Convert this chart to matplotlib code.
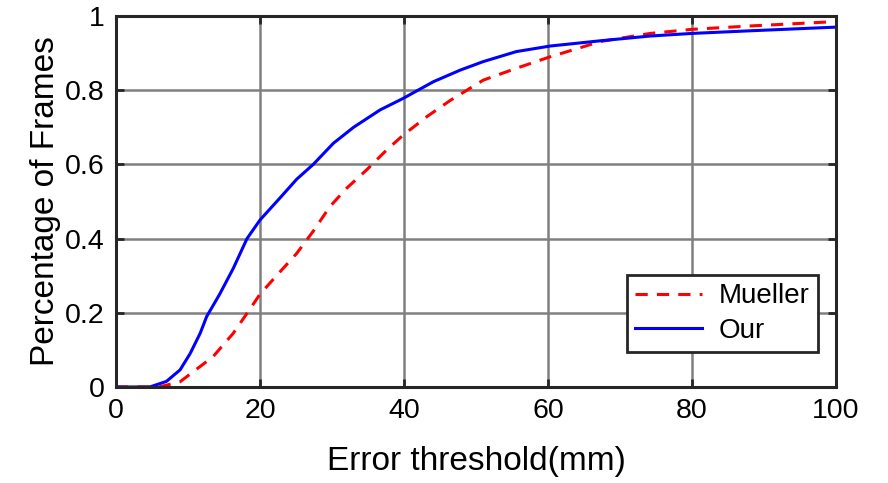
import matplotlib
matplotlib.use("Agg")
import matplotlib.pyplot as plt

# error threshold (mm) vs fraction of frames
our_x = [0, 4.7, 7.0, 8.9, 10.3, 11.7, 12.6, 14.4, 16.3, 18.2, 20.0, 22.8, 25.1,
         27.4, 30.2, 33.0, 36.7, 39.9, 44.1, 47.8, 51.0, 55.6, 60.3, 67.2,
         74.2, 80.0, 88.0, 100]
our_y = [0, 0, 0.015, 0.046, 0.09, 0.145, 0.19, 0.25, 0.32, 0.40, 0.45, 0.51, 0.56,
         0.60, 0.657, 0.70, 0.747, 0.778, 0.823, 0.854, 0.877, 0.904, 0.919, 0.933,
         0.946, 0.953, 0.96, 0.97]

mueller_x = [0, 6.0, 8.9, 13.5, 16.3, 18.6, 20.0, 22.3, 25.1, 27.4, 29.7, 32.0,
             34.8, 37.6, 39.9, 43.2, 46.4, 51.0, 55.6, 60.3, 64.9, 67.2, 74.2,
             80.0, 88.0, 100]
mueller_y = [0, 0, 0.014, 0.082, 0.145, 0.21, 0.25, 0.30, 0.36, 0.42, 0.486, 0.535,
             0.585, 0.639, 0.679, 0.729, 0.772, 0.827, 0.859, 0.89, 0.917, 0.931, 0.953,
             0.964, 0.973, 0.985]

plt.rcParams['font.family'] = ['Liberation Sans', 'DejaVu Sans']

fig = plt.figure(figsize=(8.88, 4.83), dpi=100)
ax = fig.add_axes([0.1306, 0.1988, 0.8108, 0.7681])

ax.plot(mueller_x, mueller_y, color='red', linestyle=(0, (4, 3)), linewidth=2.2, label='Mueller')
ax.plot(our_x, our_y, color='blue', linewidth=2.2, label='Our')

ax.set_xlim(0, 100)
ax.set_ylim(0, 1)
ax.set_xticks([0, 20, 40, 60, 80, 100])
ax.set_yticks([0, 0.2, 0.4, 0.6, 0.8, 1])
ax.set_yticklabels(['0', '0.2', '0.4', '0.6', '0.8', '1'])
ax.tick_params(direction='in', length=6, width=2, labelsize=20.5, pad=8,
               top=True, right=True, color='#262626')
ax.grid(True, color='#808080', linewidth=1.8)
for s in ax.spines.values():
    s.set_linewidth(2.2)
    s.set_color('#262626')

ax.set_xlabel('Error threshold(mm)', fontsize=24, labelpad=16)
ax.set_ylabel('Percentage of Frames', fontsize=24, labelpad=3)

leg = ax.legend(loc='lower right', bbox_to_anchor=(0.975, 0.094), fontsize=20,
                frameon=True, fancybox=False, framealpha=1, edgecolor='#262626',
                borderaxespad=0, handlelength=2.4, handletextpad=0.6,
                borderpad=0.3, labelspacing=0.3)
leg.get_frame().set_linewidth(2)

fig.savefig('out.png', dpi=100)
